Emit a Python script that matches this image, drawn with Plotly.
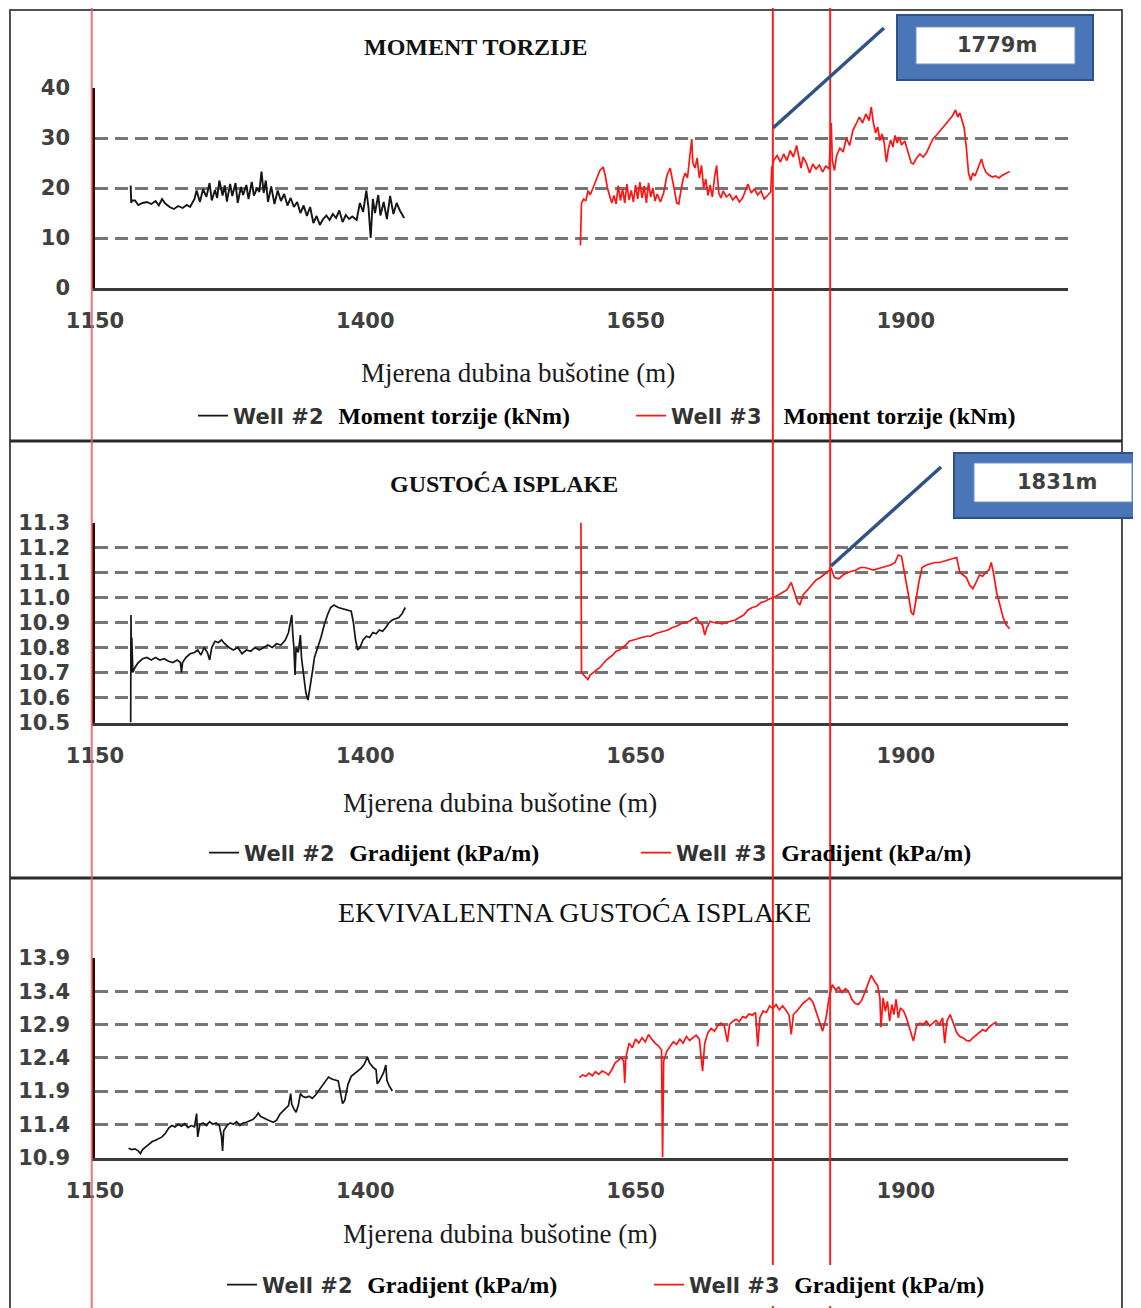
import plotly.graph_objects as go

# page body has an 8 px margin, so the figure is 8 px smaller and shifted
PAGE_W, PAGE_H, OFF = 1141, 1308, 8
W, H = PAGE_W - OFF, PAGE_H - OFF

# ---------------- data ----------------
depth_ticks = [1150, 1400, 1650, 1900]

# Panel 1: torque (kNm)
torque_w2_depth = [1183, 1183.5, 1184, 1187, 1190, 1194, 1198, 1202, 1206, 1209,
                   1212, 1215, 1219, 1223, 1227, 1231, 1235, 1238, 1242, 1244,
                   1247, 1250, 1253, 1256, 1258, 1261, 1263, 1265, 1268, 1270,
                   1272, 1275, 1277, 1280, 1282, 1285, 1287, 1290, 1292, 1295,
                   1297, 1300, 1302, 1304, 1306, 1308, 1310, 1313, 1316, 1319,
                   1322, 1325, 1328, 1331, 1334, 1337, 1340, 1343, 1346, 1349,
                   1352, 1355, 1358, 1361, 1364, 1367, 1370, 1373, 1376, 1379,
                   1382, 1385, 1388, 1392, 1395, 1398, 1401, 1403, 1405, 1407,
                   1409, 1412, 1414, 1417, 1420, 1423, 1426, 1429, 1432, 1436]
torque_w2 = [20.5, 17.0, 17.5, 17.5, 16.6, 17.0, 17.2, 16.8, 17.4, 16.5,
             17.8, 16.9, 16.2, 15.8, 16.4, 16.0, 16.6, 16.2, 17.8, 19.5,
             17.2, 19.8, 18.2, 21.0, 17.5, 19.6, 18.0, 21.5, 18.5, 20.5,
             17.3, 20.8, 18.4, 21.0, 17.0, 20.2, 18.6, 20.6, 17.8, 21.2,
             18.5, 20.0, 19.2, 23.3, 19.0, 21.5, 17.2, 20.3, 16.8, 19.5,
             17.4, 18.8, 16.5, 18.0, 16.2, 17.2, 15.0, 16.5, 14.4, 16.2,
             13.0, 14.4, 12.6, 13.8, 14.5, 13.6, 14.8, 14.0, 15.5, 13.2,
             14.6, 13.8, 14.3, 13.6, 17.0, 15.2, 19.5, 16.0, 10.0, 17.8,
             15.0, 18.6, 14.5, 17.2, 13.8, 18.4, 14.8, 17.0, 15.5, 14.0]

torque_w3_depth = [1599, 1600, 1602, 1604, 1606, 1608, 1611, 1614, 1617, 1620,
                   1622, 1624, 1626, 1628, 1630, 1632, 1634, 1636, 1638, 1640,
                   1642, 1644, 1646, 1648, 1650, 1652, 1654, 1656, 1658, 1660,
                   1662, 1664, 1666, 1668, 1670, 1673, 1676, 1679, 1682, 1684,
                   1686, 1688, 1690, 1692, 1694, 1696, 1698, 1700, 1702, 1703,
                   1705, 1707, 1709, 1711, 1713, 1715, 1717, 1719, 1721, 1723,
                   1725, 1727, 1729, 1731, 1734, 1737, 1740, 1743, 1746, 1749,
                   1752, 1754, 1757, 1760, 1763, 1766, 1769, 1772, 1775, 1776,
                   1778, 1781, 1784, 1787, 1790, 1793, 1796, 1799, 1801, 1803,
                   1805, 1808, 1811, 1814, 1817, 1820, 1823, 1826, 1829, 1831,
                   1832, 1834, 1836, 1839, 1842, 1845, 1848, 1851, 1854, 1857,
                   1860, 1863, 1866, 1868, 1870, 1872, 1874, 1876, 1878, 1880,
                   1882, 1884, 1886, 1888, 1890, 1892, 1894, 1896, 1899, 1902,
                   1905, 1907, 1910, 1913, 1916, 1919, 1922, 1925, 1928, 1931,
                   1934, 1937, 1940, 1943, 1946, 1948, 1950, 1952, 1954, 1956,
                   1958, 1960, 1962, 1964, 1966, 1968, 1970, 1972, 1974, 1977,
                   1980, 1983, 1986, 1989, 1992, 1996]
torque_w3 = [8.5, 17.0, 17.8, 17.4, 19.5, 18.6, 20.2, 21.8, 23.5, 24.2,
             22.5, 20.0, 18.2, 17.0, 18.5, 16.8, 20.5, 17.5, 19.8, 17.0,
             20.8, 17.6, 19.5, 17.2, 20.6, 17.8, 21.2, 18.0, 20.4, 17.0,
             21.0, 18.2, 20.0, 17.4, 18.8, 17.2, 19.0, 22.5, 24.0, 22.0,
             19.5, 17.0, 16.8, 19.5, 21.8, 23.0, 22.0, 26.0, 29.8, 25.0,
             24.0, 26.0, 22.0, 24.5, 20.0, 21.8, 18.5, 20.6, 18.2, 22.0,
             24.5, 19.0, 18.0, 19.4, 18.2, 18.8, 17.6, 18.4, 17.2, 18.0,
             19.6, 20.8, 19.0, 19.8, 18.6, 19.4, 17.8, 18.6, 19.2, 24.0,
             25.6, 26.5, 25.2, 26.8, 25.5, 27.5, 26.2, 28.5, 26.0, 24.0,
             26.2, 25.0, 23.0, 24.8, 23.8, 24.6, 23.2, 24.4, 23.8, 33.0,
             25.5, 23.5, 26.5, 28.0, 27.2, 30.0, 28.5, 31.5, 32.8, 34.2,
             33.0, 34.8, 33.5, 36.2, 33.0, 31.0, 32.2, 29.5, 30.8, 29.0,
             25.2, 28.0, 29.6, 28.2, 30.5, 29.0, 30.2, 28.6, 29.4, 27.0,
             25.0, 24.8, 26.0, 26.8, 26.2, 27.0, 28.5, 29.8, 30.5, 31.2,
             32.0, 32.8, 33.6, 34.4, 35.6, 34.2, 35.0, 33.4, 32.0, 28.0,
             23.0, 21.5, 23.0, 22.4, 23.6, 24.6, 25.8, 24.2, 23.2, 22.6,
             22.2, 22.4, 22.0, 22.5, 22.8, 23.3]

# Panel 2: mud density gradient (kPa/m)
grad_w2_depth = [1183, 1183.3, 1183.6, 1184, 1185, 1187, 1190, 1194, 1198, 1202,
                 1206, 1210, 1214, 1218, 1222, 1226, 1229, 1230, 1231, 1234,
                 1238, 1242, 1245, 1248, 1251, 1254, 1256, 1258, 1261, 1264,
                 1267, 1270, 1274, 1278, 1282, 1286, 1290, 1294, 1298, 1302,
                 1306, 1310, 1314, 1318, 1322, 1326, 1329, 1331, 1332, 1333,
                 1334, 1335, 1336, 1338, 1340, 1341, 1343, 1345, 1347, 1349,
                 1351, 1353, 1356, 1359, 1362, 1365, 1368, 1371, 1375, 1379,
                 1383, 1387, 1389, 1391, 1393, 1395, 1398, 1401, 1404, 1407,
                 1410, 1413, 1416, 1419, 1422, 1425, 1428, 1431, 1434, 1437]
grad_w2 = [10.50, 10.93, 10.70, 10.84, 10.70, 10.72, 10.74, 10.755, 10.76, 10.75,
           10.76, 10.75, 10.755, 10.745, 10.74, 10.75, 10.74, 10.70, 10.74, 10.76,
           10.775, 10.78, 10.79, 10.77, 10.80, 10.78, 10.75, 10.80, 10.825, 10.82,
           10.83, 10.815, 10.80, 10.79, 10.80, 10.775, 10.79, 10.785, 10.80, 10.79,
           10.80, 10.81, 10.80, 10.815, 10.81, 10.83, 10.86, 10.90, 10.93, 10.85,
           10.80, 10.69, 10.80, 10.78, 10.85, 10.76, 10.70, 10.62, 10.59, 10.64,
           10.70, 10.76, 10.80, 10.84, 10.89, 10.93, 10.96, 10.97, 10.96, 10.955,
           10.95, 10.945, 10.90, 10.83, 10.79, 10.80, 10.83, 10.845, 10.84, 10.86,
           10.855, 10.87, 10.865, 10.88, 10.90, 10.91, 10.915, 10.92, 10.935, 10.96]

grad_w3_depth = [1599.5, 1600, 1602, 1604, 1606, 1608, 1611, 1614, 1617, 1620,
                 1623, 1626, 1629, 1632, 1635, 1638, 1641, 1644, 1648, 1652,
                 1656, 1660, 1664, 1668, 1672, 1676, 1680, 1684, 1688, 1692,
                 1696, 1700, 1703, 1706, 1709, 1712, 1714, 1716, 1719, 1722,
                 1726, 1730, 1734, 1738, 1742, 1746, 1750, 1754, 1758, 1762,
                 1766, 1770, 1774, 1778, 1782, 1786, 1790, 1794, 1797, 1800,
                 1802, 1805, 1809, 1813, 1817, 1821, 1825, 1829, 1831, 1834,
                 1838, 1842, 1846, 1850, 1854, 1858, 1862, 1866, 1870, 1874,
                 1878, 1882, 1886, 1890, 1893, 1896, 1899, 1902, 1905, 1907,
                 1909, 1912, 1915, 1919, 1923, 1927, 1931, 1935, 1939, 1943,
                 1947, 1950, 1953, 1956, 1959, 1962, 1965, 1968, 1971, 1974,
                 1977, 1979, 1981, 1984, 1987, 1990, 1993, 1996]
grad_w3 = [11.30, 10.70, 10.69, 10.68, 10.672, 10.69, 10.70, 10.71, 10.72, 10.735,
           10.75, 10.76, 10.77, 10.785, 10.79, 10.80, 10.81, 10.825, 10.83, 10.835,
           10.84, 10.845, 10.845, 10.855, 10.86, 10.865, 10.87, 10.88, 10.885, 10.895,
           10.90, 10.905, 10.915, 10.92, 10.90, 10.89, 10.85, 10.88, 10.905, 10.90,
           10.90, 10.895, 10.90, 10.905, 10.91, 10.92, 10.93, 10.95, 10.96, 10.965,
           10.98, 10.985, 10.995, 11.00, 11.01, 11.02, 11.03, 11.06, 11.02, 10.98,
           10.97, 11.01, 11.03, 11.05, 11.07, 11.08, 11.095, 11.11, 11.115, 11.08,
           11.075, 11.09, 11.10, 11.105, 11.11, 11.12, 11.12, 11.115, 11.11, 11.115,
           11.12, 11.125, 11.13, 11.14, 11.17, 11.165, 11.10, 11.02, 10.94, 10.93,
           10.98, 11.06, 11.12, 11.13, 11.135, 11.14, 11.14, 11.145, 11.15, 11.155,
           11.16, 11.10, 11.09, 11.08, 11.05, 11.035, 11.06, 11.09, 11.085, 11.10,
           11.11, 11.14, 11.10, 11.02, 10.97, 10.92, 10.89, 10.875]

# Panel 3: equivalent circulating density gradient (kPa/m)
ecd_w2_depth = [1181, 1184, 1187, 1190, 1192, 1194, 1197, 1200, 1203, 1206,
                1209, 1212, 1215, 1218, 1221, 1224, 1227, 1230, 1233, 1236,
                1239, 1242, 1244, 1245, 1247, 1250, 1253, 1256, 1259, 1262,
                1265, 1267, 1268, 1269, 1272, 1275, 1278, 1281, 1284, 1287,
                1290, 1293, 1296, 1299, 1301, 1303, 1306, 1309, 1312, 1315,
                1318, 1321, 1324, 1327, 1329, 1331, 1332, 1334, 1336, 1338,
                1340, 1342, 1345, 1348, 1351, 1354, 1357, 1360, 1363, 1366,
                1369, 1372, 1375, 1377, 1379, 1381, 1384, 1387, 1390, 1393,
                1396, 1399, 1402, 1404, 1407, 1410, 1411, 1413, 1415, 1417,
                1419, 1420, 1422, 1425]
ecd_w2 = [11.04, 11.02, 11.03, 11.00, 10.96, 11.02, 11.06, 11.10, 11.14, 11.16,
          11.19, 11.21, 11.26, 11.34, 11.38, 11.36, 11.40, 11.37, 11.41, 11.35,
          11.38, 11.36, 11.56, 11.21, 11.40, 11.42, 11.38, 11.44, 11.40, 11.42,
          11.38, 11.22, 11.00, 11.30, 11.38, 11.42, 11.40, 11.44, 11.38, 11.42,
          11.43, 11.45, 11.47, 11.52, 11.57, 11.52, 11.49, 11.47, 11.45, 11.43,
          11.46, 11.55, 11.60, 11.64, 11.68, 11.86, 11.70, 11.63, 11.58, 11.68,
          11.86, 11.82, 11.80, 11.82, 11.79, 11.84, 11.91, 11.98, 12.05, 12.11,
          12.08, 12.06, 12.05, 11.88, 11.71, 11.76, 12.00, 12.12, 12.16, 12.20,
          12.24, 12.30, 12.41, 12.32, 12.26, 12.22, 12.01, 12.05, 12.12, 12.18,
          12.29, 12.06, 11.98, 11.90]

ecd_w3_depth = [1598, 1601, 1604, 1607, 1610, 1613, 1616, 1619, 1622, 1625,
                1628, 1631, 1634, 1637, 1639, 1640, 1641, 1644, 1647, 1650,
                1653, 1656, 1659, 1662, 1665, 1668, 1671, 1674, 1675, 1676,
                1679, 1682, 1685, 1688, 1691, 1694, 1697, 1700, 1703, 1706,
                1709, 1712, 1714, 1717, 1720, 1723, 1726, 1729, 1732, 1735,
                1737, 1740, 1743, 1746, 1749, 1752, 1755, 1758, 1761, 1763,
                1765, 1768, 1771, 1774, 1777, 1780, 1783, 1786, 1789, 1792,
                1794, 1796, 1799, 1802, 1805, 1808, 1811, 1814, 1817, 1820,
                1823, 1826, 1829, 1832, 1835, 1838, 1841, 1844, 1847, 1850,
                1853, 1856, 1859, 1862, 1865, 1868, 1871, 1874, 1876, 1877,
                1879, 1881, 1883, 1885, 1887, 1889, 1891, 1893, 1895, 1898,
                1901, 1904, 1907, 1910, 1913, 1916, 1919, 1922, 1925, 1928,
                1931, 1934, 1936, 1938, 1941, 1944, 1947, 1950, 1953, 1956,
                1959, 1962, 1965, 1968, 1971, 1974, 1977, 1980, 1984]
ecd_w3 = [12.10, 12.14, 12.12, 12.17, 12.13, 12.19, 12.15, 12.20, 12.18, 12.14,
          12.22, 12.32, 12.36, 12.40, 12.35, 12.02, 12.40, 12.62, 12.55, 12.68,
          12.62, 12.70, 12.64, 12.75, 12.68, 12.62, 12.58, 12.52, 10.90, 12.35,
          12.50, 12.58, 12.64, 12.60, 12.68, 12.62, 12.72, 12.66, 12.70, 12.74,
          12.68, 12.20, 12.62, 12.78, 12.84, 12.80, 12.88, 12.92, 12.88, 12.64,
          12.90, 12.95, 12.98, 12.94, 13.02, 13.00, 13.06, 13.04, 13.08, 12.57,
          13.00, 13.10, 13.08, 13.18, 13.14, 13.20, 13.12, 13.18, 13.12, 13.04,
          12.75, 13.05, 13.10, 13.16, 13.22, 13.26, 13.30, 13.24, 13.10, 12.95,
          12.80, 12.98, 13.30, 13.50, 13.42, 13.46, 13.38, 13.44, 13.40, 13.28,
          13.22, 13.20, 13.26, 13.38, 13.52, 13.64, 13.55, 13.48, 13.30, 12.86,
          13.30, 13.10, 13.25, 12.95, 13.20, 13.05, 13.28, 13.00, 13.15, 13.10,
          12.98, 12.80, 12.65, 12.88, 12.92, 12.90, 12.95, 12.88, 12.92, 12.96,
          12.90, 13.00, 12.62, 12.95, 13.05, 12.90, 12.78, 12.72, 12.70, 12.66,
          12.65, 12.70, 12.74, 12.78, 12.82, 12.80, 12.86, 12.90, 12.94]

marker_depths = [1147, 1777, 1830]
callout_labels = ["1779m", "1831m"]

panel_titles = ["MOMENT TORZIJE", "GUSTOĆA ISPLAKE", "EKVIVALENTNA GUSTOĆA ISPLAKE"]
x_title = "Mjerena dubina bušotine (m)"
legend_units = ["Moment torzije (kNm)", "Gradijent (kPa/m)", "Gradijent (kPa/m)"]

torque_ticks = [0, 10, 20, 30, 40]
grad_ticks = [10.5, 10.6, 10.7, 10.8, 10.9, 11.0, 11.1, 11.2, 11.3]
ecd_ticks = [10.9, 11.4, 11.9, 12.4, 12.9, 13.4, 13.9]

for a, b in [(torque_w2_depth, torque_w2), (torque_w3_depth, torque_w3),
             (grad_w2_depth, grad_w2), (grad_w3_depth, grad_w3),
             (ecd_w2_depth, ecd_w2), (ecd_w3_depth, ecd_w3)]:
    assert len(a) == len(b), (len(a), len(b))


# ---------------- helpers (page pixel -> paper fraction) ----------------
def fx(p):
    return (p - OFF) / W


def fy(p):
    return 1 - (p - OFF) / H


X_RANGE = [1150, 2050]
X_PX = [95, 1068]


def depth_to_px(d):
    return X_PX[0] + (d - X_RANGE[0]) * (X_PX[1] - X_PX[0]) / (X_RANGE[1] - X_RANGE[0])


SANS = "DejaVu Sans"
SERIF = "Liberation Serif"
TICKFONT = dict(family=SANS, size=21, color="#404040", weight="bold")
BLACK = "#151515"
RED = "#ff1414"

fig = go.Figure()


def name_html(well, unit, gap):
    return (f"Well #{well}" + "&nbsp;" * gap +
            f"<span style=\"font-family:{SERIF};font-size:24px;color:#000000\">{unit}</span>")


series = [
    (torque_w2_depth, torque_w2, BLACK, 1.9, "x", "y", "legend", name_html(2, legend_units[0], 2)),
    (torque_w3_depth, torque_w3, RED, 1.7, "x", "y", "legend2", name_html(3, legend_units[0], 3)),
    (grad_w2_depth, grad_w2, BLACK, 1.7, "x2", "y2", "legend3", name_html(2, legend_units[1], 2)),
    (grad_w3_depth, grad_w3, RED, 1.7, "x2", "y2", "legend4", name_html(3, legend_units[1], 2)),
    (ecd_w2_depth, ecd_w2, BLACK, 1.7, "x3", "y3", "legend5", name_html(2, legend_units[2], 2)),
    (ecd_w3_depth, ecd_w3, RED, 1.7, "x3", "y3", "legend6", name_html(3, legend_units[2], 2)),
]
for xs, ys, col, lw, xa, ya, lg, nm in series:
    fig.add_trace(go.Scatter(x=xs, y=ys, mode="lines", name=nm,
                             line=dict(color=col, width=lw),
                             xaxis=xa, yaxis=ya, legend=lg, showlegend=True,
                             hoverinfo="skip"))

XDOM = [fx(X_PX[0]), fx(X_PX[1])]
panels = [  # (y-domain in px top,bottom ; range ; ticks)
    ((88, 288), [0, 40], torque_ticks, "%d"),
    ((522.5, 722.5), [10.5, 11.3], grad_ticks, "%.1f"),
    ((958, 1157.5), [10.9, 13.9], ecd_ticks, "%.1f"),
]

layout = dict(width=W, height=H, margin=dict(l=0, r=0, t=0, b=0),
              paper_bgcolor="white", plot_bgcolor="white", showlegend=True)

for i, (dom, rng, ticks, fmt) in enumerate(panels, start=1):
    sx = "" if i == 1 else str(i)
    layout["xaxis" + sx] = dict(
        domain=XDOM, range=X_RANGE, anchor="y" + sx,
        tickmode="array", tickvals=depth_ticks, ticktext=[str(t) for t in depth_ticks],
        showgrid=False, zeroline=False, showline=True, linecolor="#3a3a3a", linewidth=3,
        ticks="outside", ticklen=0, tickfont=TICKFONT, ticklabelstandoff=12,
        automargin=False, fixedrange=True)
    layout["yaxis" + sx] = dict(
        domain=[fy(dom[1]), fy(dom[0])], range=rng, anchor="x" + sx,
        tickmode="array", tickvals=ticks, ticktext=[fmt % t for t in ticks],
        showgrid=True, gridcolor="#767676", gridwidth=2.5, griddash="13px,7px",
        zeroline=False, showline=True, linecolor="#2a0808", linewidth=2.5,
        ticks="outside", ticklen=0, tickfont=TICKFONT, ticklabelstandoff=18,
        automargin=False, fixedrange=True)

legend_specs = [  # (legend key, x px of legend, y px centre, bg)
    ("legend", 193, 416, "rgba(0,0,0,0)"),
    ("legend2", 631, 416, "rgba(0,0,0,0)"),
    ("legend3", 204, 853, "rgba(0,0,0,0)"),
    ("legend4", 636, 853, "rgba(0,0,0,0)"),
    ("legend5", 222, 1285, "rgba(0,0,0,0)"),
    ("legend6", 649, 1285, "white"),
]
for key, lx, ly, bg in legend_specs:
    layout[key] = dict(x=fx(lx), y=fy(ly), xanchor="left", yanchor="middle",
                       orientation="h", bgcolor=bg, borderwidth=0,
                       font=dict(family=SANS, size=21, color="#333333", weight="bold"),
                       itemwidth=30, tracegroupgap=0)

fig.update_layout(**layout)

# ---------------- frames, separators, markers ----------------
shapes = []
# outer frame (its bottom edge lies below the visible page, as in the original crop)
shapes.append(dict(type="rect", xref="paper", yref="paper", x0=fx(10), x1=fx(1122),
                   y0=fy(1330), y1=fy(10), line=dict(color="#505050", width=2),
                   fillcolor="rgba(0,0,0,0)", layer="above"))
for sy in (441, 878):
    shapes.append(dict(type="line", xref="paper", yref="paper", x0=fx(10), x1=fx(1122),
                       y0=fy(sy), y1=fy(sy), line=dict(color="#2a2a2a", width=3), layer="above"))
for j, d in enumerate(marker_depths):
    col = "rgba(240,90,90,0.85)" if j == 0 else "rgba(255,20,20,0.95)"
    xp = fx(depth_to_px(d))
    shapes.append(dict(type="line", xref="paper", yref="paper", x0=xp, x1=xp, y0=0, y1=1,
                       line=dict(color=col, width=2), layer="above"))

# callout boxes
callouts = [  # connector (x0,y0,x1,y1), outer box, inner box, text centre
    ((773, 128, 884, 28), (897, 15, 1093, 80), (916, 27, 1075, 64), (997, 45)),
    ((831, 566, 941, 467), (954, 453, 1150, 518), (974, 463, 1132, 502), (1057, 482)),
]
for k, (ln, ob, ib, tc) in enumerate(callouts):
    shapes.append(dict(type="line", xref="paper", yref="paper",
                       x0=fx(ln[0]), y0=fy(ln[1]), x1=fx(ln[2]), y1=fy(ln[3]),
                       line=dict(color="#2f5382", width=3.5), layer="above"))
    shapes.append(dict(type="rect", xref="paper", yref="paper",
                       x0=fx(ob[0]), x1=fx(ob[2]), y0=fy(ob[3]), y1=fy(ob[1]),
                       fillcolor="#4a76b8", line=dict(color="#2c5088", width=2), layer="above"))
    shapes.append(dict(type="rect", xref="paper", yref="paper",
                       x0=fx(ib[0]), x1=fx(ib[2]), y0=fy(ib[3]), y1=fy(ib[1]),
                       fillcolor="white", line=dict(color="#6f93c8", width=1), layer="above"))

fig.update_layout(shapes=shapes)

# ---------------- texts ----------------
ann = []
titles_pos = [(475, 47, True, 24), (504, 484, True, 24), (574, 912, False, 28)]
for t, (cx, cy, bold, sz) in zip(panel_titles, titles_pos):
    ann.append(dict(text=t, xref="paper", yref="paper", x=fx(cx), y=fy(cy),
                    xanchor="center", yanchor="middle", showarrow=False,
                    font=dict(family=SERIF, size=sz, color="#111111",
                              weight="bold" if bold else "normal")))
for cx, cy in [(518, 373), (500, 803), (500, 1234)]:
    ann.append(dict(text=x_title, xref="paper", yref="paper", x=fx(cx), y=fy(cy),
                    xanchor="center", yanchor="middle", showarrow=False,
                    font=dict(family=SERIF, size=27, color="#1a1a1a")))
for lab, (ln, ob, ib, tc) in zip(callout_labels, callouts):
    ann.append(dict(text=lab, xref="paper", yref="paper", x=fx(tc[0]), y=fy(tc[1]),
                    xanchor="center", yanchor="middle", showarrow=False,
                    font=dict(family=SANS, size=21, color="#404040", weight="bold")))
fig.update_layout(annotations=ann)

fig.write_html("out.html")
